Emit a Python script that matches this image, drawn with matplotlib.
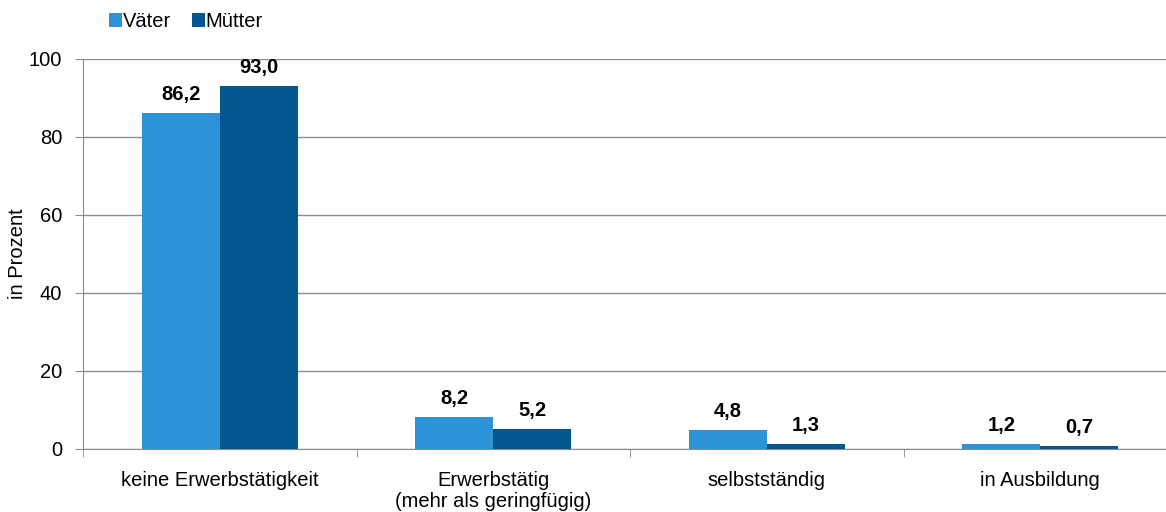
import matplotlib.pyplot as plt
import numpy as np

plt.rcParams['font.family'] = ['Liberation Sans', 'DejaVu Sans']

categories = ["keine Erwerbstätigkeit", "Erwerbstätig\n(mehr als geringfügig)",
              "selbstständig", "in Ausbildung"]
vaeter = [86.2, 8.2, 4.8, 1.2]
muetter = [93.0, 5.2, 1.3, 0.7]
labels_v = ["86,2", "8,2", "4,8", "1,2"]
labels_m = ["93,0", "5,2", "1,3", "0,7"]

c_v = "#2E92D8"
c_m = "#03578F"
grid_c = "#8C8C8C"
fs = 14.5

fig = plt.figure(figsize=(11.66, 5.12), dpi=100)
ax = fig.add_axes([83 / 1166, 63 / 512, 1094 / 1166, 390 / 512])

x = np.arange(len(categories))
w = 0.285
bv = ax.bar(x - w / 2, vaeter, w, color=c_v, label="Väter", zorder=3)
bm = ax.bar(x + w / 2, muetter, w, color=c_m, label="Mütter", zorder=3)

for rect, t in zip(bv, labels_v):
    ax.text(rect.get_x() + rect.get_width() / 2, rect.get_height() + 2.3, t,
            ha="center", va="bottom", fontsize=fs, fontweight="bold")
for rect, t in zip(bm, labels_m):
    ax.text(rect.get_x() + rect.get_width() / 2, rect.get_height() + 2.3, t,
            ha="center", va="bottom", fontsize=fs, fontweight="bold")

ax.set_xlim(-0.5, len(categories) - 0.5)
ax.set_ylim(0, 100)
ax.set_yticks([0, 20, 40, 60, 80, 100])
ax.yaxis.grid(True, color=grid_c, linewidth=1, zorder=0)
ax.set_axisbelow(True)

ax.set_xticks(x)
ax.set_xticklabels(categories, fontsize=fs, linespacing=1.1)
ax.set_xticks(np.arange(-0.5, len(categories) + 0.5, 1), minor=True)
ax.tick_params(axis="x", which="major", length=0, pad=16)
ax.tick_params(axis="x", which="minor", length=6, color=grid_c, direction="out")
ax.tick_params(axis="y", length=6, color=grid_c, labelsize=fs, pad=9)

for s in ["top", "right"]:
    ax.spines[s].set_visible(False)
ax.spines["left"].set_color(grid_c)
ax.spines["bottom"].set_color(grid_c)

ax.set_ylabel("in Prozent", fontsize=fs, va="center")
ax.yaxis.set_label_coords(-65 / 1094, 0.5)

fig.legend(loc="upper left", bbox_to_anchor=(91 / 1166, 1.012), ncol=2,
           frameon=False, fontsize=fs, handlelength=0.65, handleheight=0.65,
           handletextpad=0.05, columnspacing=1.0)

fig.savefig("out.png", dpi=100)
